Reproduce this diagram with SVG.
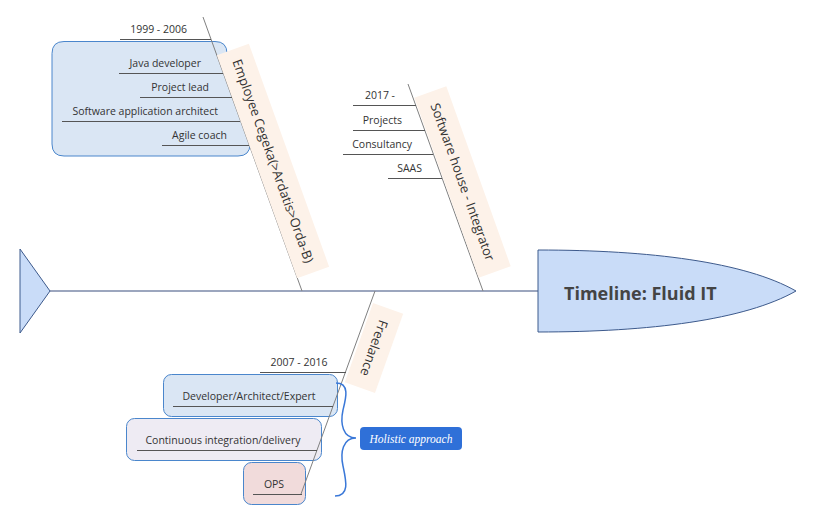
<svg xmlns="http://www.w3.org/2000/svg" width="813" height="522" viewBox="0 0 813 522">
<style>
.t{font-family:"Open Sans","Liberation Sans",sans-serif;font-size:10.5px;fill:#333}
.lbl{font-family:"Open Sans","Liberation Sans",sans-serif;font-size:13px;fill:#333;text-anchor:middle}
.lb{fill:#fdf2e9;stroke:none}
.sub{stroke:#555;stroke-width:1;fill:none}
.bone{stroke:#808080;stroke-width:1;fill:none}
.nb{stroke:#4a86cc;stroke-width:1}
</style>
<rect width="813" height="522" fill="#fff"/>
<g id="tail"><polygon points="20,249 50,291 20,333" fill="#c9dcf8" stroke="#3d5a8c" stroke-width="1"/></g>
<g id="group-cegeka"><path class="nb" fill="#dae6f4" d="M64,41.5 L215,41.5 Q227,41.5 227,53.5 L250,144 Q250,156 238,156 L64,156 Q52,156 52,144 L52,53.5 Q52,41.5 64,41.5 Z"/></g>
<g id="node-dev"><rect class="nb" x="163.5" y="374.5" width="174" height="42" rx="8" fill="#dae6f4"/></g>
<g id="node-ci"><rect class="nb" x="126.5" y="418.5" width="195" height="42" rx="8" fill="#eeebf3"/></g>
<g id="node-ops"><rect class="nb" x="243.5" y="462.5" width="62" height="42" rx="8" fill="#f1dbdb"/></g>
<g id="connectors">
<line x1="50" y1="291" x2="538" y2="291" stroke="#3b4f7e" stroke-width="1.2"/>
<line class="bone" x1="203" y1="17" x2="302" y2="291"/>
<line class="bone" x1="408" y1="84" x2="483" y2="291"/>
<line class="bone" x1="375" y1="291" x2="301" y2="494"/>
<line class="sub" x1="120" y1="39.5" x2="211" y2="39.5"/>
<line class="sub" x1="119" y1="73.5" x2="223" y2="73.5"/>
<line class="sub" x1="140" y1="97.5" x2="232" y2="97.5"/>
<line class="sub" x1="62" y1="121.5" x2="240" y2="121.5"/>
<line class="sub" x1="162" y1="145.5" x2="249" y2="145.5"/>
<line class="sub" x1="353" y1="105.5" x2="416" y2="105.5"/>
<line class="sub" x1="353" y1="130.5" x2="425" y2="130.5"/>
<line class="sub" x1="343" y1="154.5" x2="433" y2="154.5"/>
<line class="sub" x1="388" y1="178.5" x2="442" y2="178.5"/>
<line class="sub" x1="260" y1="372.5" x2="346" y2="372.5"/>
<line class="sub" x1="173" y1="406.5" x2="333" y2="406.5"/>
<line class="sub" x1="137" y1="450.5" x2="317" y2="450.5"/>
<line class="sub" x1="253" y1="494.5" x2="302" y2="494.5"/>
<path d="M336,383 C350,383 346,398 343,410 C340,424 343,438 356,438 C343,438 340,452 343,466 C346,480 350,496 335,496" fill="none" stroke="#3a78d8" stroke-width="1.5"/>
</g>
<g id="label-cegeka" transform="translate(273,161) rotate(70.2)"><rect class="lb" x="-118.5" y="-17" width="237" height="34"/><text class="lbl" x="0" y="4.5">Employee Cegeka(&gt;Ardatis&gt;Orda-B)</text></g>
<g id="label-softwarehouse" transform="translate(462.5,182) rotate(70.3)"><rect class="lb" x="-95.5" y="-17" width="191" height="34"/><text class="lbl" x="0" y="4.5">Software house - Integrator</text></g>
<g id="label-freelance" transform="translate(374,348) rotate(109.6)"><rect class="lb" x="-42" y="-16" width="84" height="32"/><text class="lbl" x="0" y="4.5">Freelance</text></g>
<g id="texts-cegeka" text-anchor="end">
<text class="t" x="187" y="33">1999 - 2006</text>
<text class="t" x="201" y="67">Java developer</text>
<text class="t" x="209" y="91">Project lead</text>
<text class="t" x="218" y="115">Software application architect</text>
<text class="t" x="227" y="139">Agile coach</text>
</g>
<g id="texts-softwarehouse" text-anchor="end">
<text class="t" x="395" y="99">2017 -</text>
<text class="t" x="402" y="124">Projects</text>
<text class="t" x="412" y="148">Consultancy</text>
<text class="t" x="422" y="172">SAAS</text>
</g>
<g id="texts-freelance" text-anchor="middle">
<text class="t" x="299" y="366">2007 - 2016</text>
<text class="t" x="249" y="400">Developer/Architect/Expert</text>
<text class="t" x="223" y="444">Continuous integration/delivery</text>
<text class="t" x="274" y="488">OPS</text>
</g>
<g id="holistic"><rect x="360" y="427" width="102" height="23" rx="4" fill="#2f70d8"/><text x="411" y="442.5" text-anchor="middle" font-family="'Liberation Serif',serif" font-style="italic" font-size="11.5px" fill="#fff">Holistic approach</text></g>
<g id="head"><path d="M538,250 C650,250 745,262 796,291 C745,320 650,332 538,332 Z" fill="#c9dcf8" stroke="#3d5a8c" stroke-width="1"/><text x="564" y="300" font-family="'Open Sans','Liberation Sans',sans-serif" font-weight="bold" font-size="18px" fill="#444">Timeline: Fluid IT</text></g>
</svg>
